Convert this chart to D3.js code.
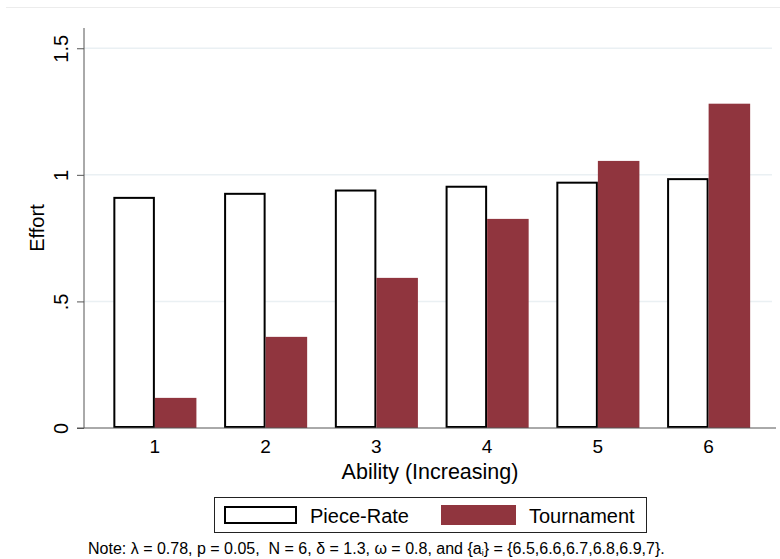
<!DOCTYPE html>
<html>
<head>
<meta charset="utf-8">
<script src="https://cdn.jsdelivr.net/npm/d3@7"></script>
<style>
  body { margin: 0; background: #fff; }
  text { font-family: "Liberation Sans", Arial, sans-serif; }
</style>
</head>
<body>
<div id="chart"></div>
<script>
// data
var abilities = ["1", "2", "3", "4", "5", "6"];
var series = ["Piece-Rate", "Tournament"];
var pieceRate = [0.909, 0.925, 0.938, 0.953, 0.969, 0.983];
var tournament = [0.119, 0.360, 0.593, 0.826, 1.055, 1.281];
var yTicks = [0, 0.5, 1, 1.5];
var yTickLabels = ["0", ".5", "1", "1.5"];

var W = 780, H = 559;
var margin = {top: 28, right: 4, bottom: 131, left: 84};
var width = W - margin.left - margin.right,
    height = H - margin.top - margin.bottom;

var svg = d3.select("#chart")
  .append("svg")
    .attr("width", W)
    .attr("height", H);

// faint frame line at the top
svg.append("line")
  .attr("x1", 6).attr("x2", W)
  .attr("y1", 7.5).attr("y2", 7.5)
  .attr("stroke", "#ececec").attr("stroke-width", 1);

var g = svg.append("g")
  .attr("transform", "translate(" + margin.left + "," + margin.top + ")");

var rows = abilities.map(function(a, i) {
  return {ability: a, values: [pieceRate[i], tournament[i]]};
});

var x = d3.scaleBand()
  .domain(abilities)
  .range([0, 695.5])
  .paddingInner(0.25)
  .paddingOuter(0.265);

var xSub = d3.scaleBand()
  .domain(series)
  .range([0, x.bandwidth()]);

var y = d3.scaleLinear()
  .domain([0, 1.58])
  .range([height, 0]);

// gridlines
g.selectAll(".grid")
  .data(yTicks.filter(function(d) { return d > 0; }))
  .enter()
  .append("line")
    .attr("x1", 0).attr("x2", width - 4)
    .attr("y1", function(d) { return y(d); })
    .attr("y2", function(d) { return y(d); })
    .attr("stroke", "#eaf0f3")
    .attr("stroke-width", 1.5);

// bars
var groups = g.selectAll(".grp")
  .data(rows)
  .enter()
  .append("g")
    .attr("transform", function(d) { return "translate(" + x(d.ability) + ",0)"; });

groups.append("rect")
  .attr("x", function(d) { return xSub("Piece-Rate") + 1; })
  .attr("y", function(d) { return y(d.values[0]); })
  .attr("width", xSub.bandwidth() - 2)
  .attr("height", function(d) { return height - y(d.values[0]) - 1; })
  .attr("fill", "#fff")
  .attr("stroke", "#000")
  .attr("stroke-width", 2);

groups.append("rect")
  .attr("x", function(d) { return xSub("Tournament"); })
  .attr("y", function(d) { return y(d.values[1]); })
  .attr("width", xSub.bandwidth())
  .attr("height", function(d) { return height - y(d.values[1]); })
  .attr("fill", "#90353e");

// y axis
var yAxis = g.append("g")
  .call(d3.axisLeft(y).tickValues(yTicks).tickSize(7).tickFormat(function(d, i) { return yTickLabels[i]; }));
yAxis.select(".domain").attr("d", "M0,0V" + height).attr("stroke", "#555");
yAxis.selectAll(".tick line").attr("stroke", "#555");
yAxis.selectAll(".tick text")
  .attr("x", null).attr("dy", null)
  .attr("transform", "translate(-16,0) rotate(-90)")
  .attr("text-anchor", "middle")
  .attr("font-size", 20)
  .attr("fill", "#000")
  .attr("font-family", "Liberation Sans, Arial, sans-serif");

// x axis
var xAxis = g.append("g")
  .attr("transform", "translate(0," + height + ")")
  .call(d3.axisBottom(x).tickSize(0));
xAxis.select(".domain").attr("d", "M-7,0H" + width).attr("stroke", "#555");
xAxis.selectAll(".tick text")
  .attr("y", 25).attr("dy", null)
  .attr("font-size", 19)
  .attr("fill", "#000")
  .attr("font-family", "Liberation Sans, Arial, sans-serif");

// axis titles
svg.append("text")
  .attr("transform", "translate(44," + (margin.top + 200) + ") rotate(-90)")
  .attr("text-anchor", "middle")
  .attr("font-size", 20)
  .text("Effort");

svg.append("text")
  .attr("x", 430).attr("y", 479)
  .attr("text-anchor", "middle")
  .attr("font-size", 21.5)
  .text("Ability (Increasing)");

// legend
var legend = svg.append("g");
legend.append("rect")
  .attr("x", 214.5).attr("y", 497.5)
  .attr("width", 432).attr("height", 35)
  .attr("fill", "#fff").attr("stroke", "#222").attr("stroke-width", 1);

legend.append("rect")
  .attr("x", 225).attr("y", 507)
  .attr("width", 71).attr("height", 16)
  .attr("fill", "#fff").attr("stroke", "#000").attr("stroke-width", 2);
legend.append("text")
  .attr("x", 310).attr("y", 523)
  .attr("font-size", 20)
  .text(series[0]);

legend.append("rect")
  .attr("x", 441).attr("y", 505)
  .attr("width", 75).attr("height", 20)
  .attr("fill", "#90353e");
legend.append("text")
  .attr("x", 529).attr("y", 523)
  .attr("font-size", 20)
  .text(series[1]);

// note
var note = svg.append("text")
  .attr("x", 88).attr("y", 554)
  .attr("font-size", 16)
  .attr("xml:space", "preserve")
  .style("white-space", "pre");
note.append("tspan").text("Note: \u03bb = 0.78, p = 0.05,  N = 6, \u03b4 = 1.3, \u03c9 = 0.8, and {a");
note.append("tspan").attr("font-size", 9).attr("dy", 2).text("i");
note.append("tspan").attr("dy", -2).text("} = {6.5,6.6,6.7,6.8,6.9,7}.");
</script>
</body>
</html>
